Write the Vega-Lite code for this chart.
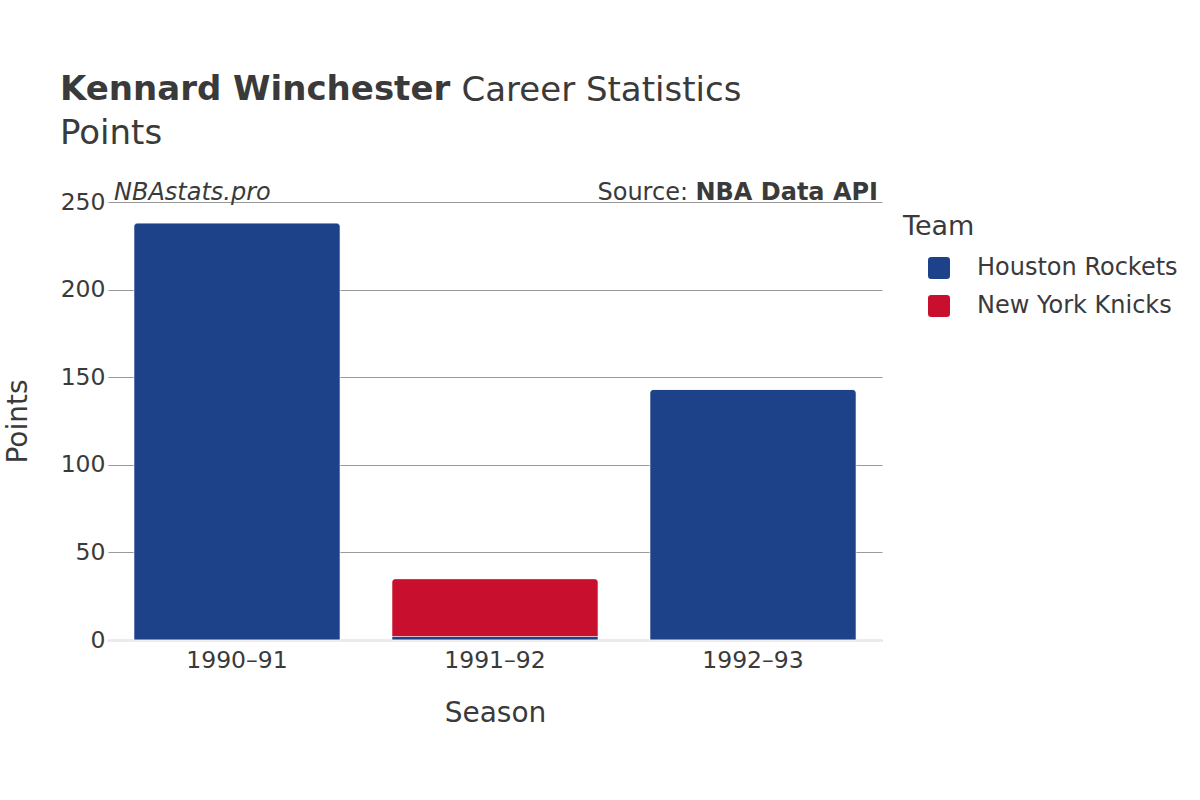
{
  "$schema": "https://vega.github.io/schema/vega-lite/v6.json",
  "width": 774,
  "height": 438,
  "autosize": {"type": "none"},
  "padding": {"left": 108, "top": 202, "right": 318, "bottom": 160},
  "background": "white",
  "config": {
    "font": "DejaVu Sans",
    "view": {"stroke": null},
    "text": {"color": "#3a3a3a"}
  },
  "title": {
    "text": "Kennard Winchester",
    "subtitle": "Points",
    "anchor": "start",
    "frame": "group",
    "dx": -48,
    "offset": -78,
    "fontSize": 34,
    "fontWeight": "bold",
    "color": "#3a3a3a",
    "subtitleFontSize": 34,
    "subtitleFontWeight": "normal",
    "subtitleColor": "#3a3a3a",
    "subtitlePadding": 10
  },
  "layer": [
    {
      "data": {
        "values": [
          {"Season": "1990–91", "Team": "Houston Rockets", "Points": 238},
          {"Season": "1991–92", "Team": "Houston Rockets", "Points": 2},
          {"Season": "1991–92", "Team": "New York Knicks", "Points": 33},
          {"Season": "1992–93", "Team": "Houston Rockets", "Points": 143}
        ]
      },
      "mark": {"type": "bar", "cornerRadiusTopLeft": 4, "cornerRadiusTopRight": 4, "stroke": "white", "strokeWidth": 0.5},
      "encoding": {
        "x": {
          "field": "Season",
          "type": "nominal",
          "scale": {"paddingInner": 0.2, "paddingOuter": 0.1},
          "axis": {
            "title": "Season",
            "labelAngle": 0,
            "labelFontSize": 23.5,
            "labelColor": "#3a3a3a",
            "labelPadding": 8,
            "ticks": false,
            "domain": true,
            "domainColor": "#ebebeb",
            "domainWidth": 3,
            "titleFontSize": 28,
            "titleFontWeight": "normal",
            "titleColor": "#3a3a3a",
            "titlePadding": 28
          }
        },
        "y": {
          "field": "Points",
          "type": "quantitative",
          "scale": {"domain": [0, 250], "nice": false},
          "axis": {
            "title": "Points",
            "values": [0, 50, 100, 150, 200, 250],
            "labelFontSize": 23.5,
            "labelColor": "#3a3a3a",
            "labelPadding": 3,
            "ticks": false,
            "domain": false,
            "gridColor": "#9a9a9a",
            "gridWidth": 1,
            "titleFontSize": 28,
            "titleFontWeight": "normal",
            "titleColor": "#3a3a3a",
            "titlePadding": 28
          }
        },
        "color": {
          "field": "Team",
          "type": "nominal",
          "scale": {"domain": ["Houston Rockets", "New York Knicks"], "range": ["#1D428A", "#C8102E"]},
          "legend": {
            "title": "Team",
            "orient": "none",
            "legendX": 795,
            "legendY": 12,
            "padding": 0,
            "titleFontSize": 27,
            "titleFontWeight": "normal",
            "titleColor": "#3a3a3a",
            "titlePadding": 15,
            "labelFontSize": 24,
            "labelLimit": 300,
            "labelColor": "#3a3a3a",
            "labelOffset": 26,
            "symbolSize": 484,
            "symbolOffset": 24,
            "symbolStrokeWidth": 0,
            "symbolOpacity": 1,
            "symbolType": "M -0.7,-1 L 0.7,-1 Q 1,-1 1,-0.7 L 1,0.7 Q 1,1 0.7,1 L -0.7,1 Q -1,1 -1,0.7 L -1,-0.7 Q -1,-1 -0.7,-1 Z",
            "rowPadding": 14
          }
        },
        "order": {"field": "Team", "sort": "ascending"}
      }
    },
    {
      "layer": [
        {
          "data": {"values": [{"pos": 0, "y": 250, "label": "NBAstats.pro"}]},
          "mark": {"type": "text", "align": "left", "baseline": "alphabetic", "dx": 6, "dy": -2, "fontSize": 24, "fontStyle": "italic", "color": "#3a3a3a"},
          "encoding": {
            "x": {"field": "pos", "type": "quantitative", "scale": {"domain": [0, 1]}, "axis": {"orient": "top", "title": "Career Statistics", "titleX": 353, "titleY": -102, "titleAlign": "left", "titleBaseline": "alphabetic", "titleAngle": 0, "titleFontSize": 34, "titleFontWeight": "normal", "titleColor": "#3a3a3a", "labels": false, "ticks": false, "domain": false, "grid": false}},
            "y": {"field": "y", "type": "quantitative", "scale": {"domain": [0, 250], "nice": false}},
            "text": {"field": "label"}
          }
        },
        {
          "data": {"values": [{"pos": 1, "y": 250, "label": "NBA Data API"}]},
          "mark": {"type": "text", "align": "right", "baseline": "alphabetic", "dx": -4, "dy": -2, "fontSize": 24, "fontWeight": "bold", "color": "#3a3a3a"},
          "encoding": {
            "x": {"field": "pos", "type": "quantitative", "scale": {"domain": [0, 1]}, "axis": {"orient": "top", "title": "Career Statistics", "titleX": 353, "titleY": -102, "titleAlign": "left", "titleBaseline": "alphabetic", "titleAngle": 0, "titleFontSize": 34, "titleFontWeight": "normal", "titleColor": "#3a3a3a", "labels": false, "ticks": false, "domain": false, "grid": false}},
            "y": {"field": "y", "type": "quantitative", "scale": {"domain": [0, 250], "nice": false}},
            "text": {"field": "label"}
          }
        },
        {
          "data": {"values": [{"pos": 1, "y": 250, "label": "Source:"}]},
          "mark": {"type": "text", "align": "right", "baseline": "alphabetic", "dx": -194, "dy": -2, "fontSize": 24, "color": "#3a3a3a"},
          "encoding": {
            "x": {"field": "pos", "type": "quantitative", "scale": {"domain": [0, 1]}, "axis": {"orient": "top", "title": "Career Statistics", "titleX": 353, "titleY": -102, "titleAlign": "left", "titleBaseline": "alphabetic", "titleAngle": 0, "titleFontSize": 34, "titleFontWeight": "normal", "titleColor": "#3a3a3a", "labels": false, "ticks": false, "domain": false, "grid": false}},
            "y": {"field": "y", "type": "quantitative", "scale": {"domain": [0, 250], "nice": false}},
            "text": {"field": "label"}
          }
        }
      ]
    }
  ],
  "resolve": {"scale": {"x": "independent"}, "axis": {"x": "independent"}}
}
